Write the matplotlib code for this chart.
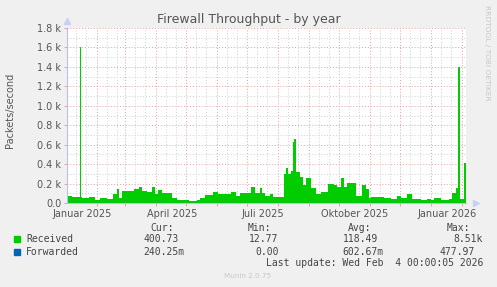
import datetime as dt
import matplotlib
matplotlib.use("Agg")
import matplotlib.pyplot as plt
import matplotlib.dates as mdates
from matplotlib.patches import Rectangle

# days since start of the graph (2 Jan 2025) and packets/second
start = dt.date(2025, 1, 2)
recv_days = [0, 5, 11, 13, 14, 15, 22, 28, 33, 40, 46, 50, 52, 55, 62, 67, 72, 75, 80,
             85, 88, 91, 95, 105, 110, 122, 130, 133, 138, 146, 151, 164, 169, 173, 184,
             188, 193, 195, 198, 203, 206, 215, 217, 219, 221, 224, 226, 227, 229, 233,
             236, 239, 244, 249, 254, 261, 267, 270, 274, 277, 280, 289, 295, 299, 302,
             304, 317, 324, 330, 334, 340, 345, 354, 360, 364, 367, 374, 382, 385, 389,
             391, 393, 397, 399]
recv_vals = [75, 65, 60, 1600, 60, 55, 65, 30, 50, 40, 95, 145, 50, 120, 125, 140, 165, 125, 115,
             160, 90, 130, 105, 50, 35, 25, 30, 50, 80, 115, 90, 115, 70, 100, 165,
             105, 150, 100, 75, 95, 65, 60, 300, 360, 300, 330, 630, 660, 320, 270,
             185, 260, 150, 90, 115, 195, 185, 165, 260, 165, 205, 70, 185, 145, 50,
             65, 55, 40, 70, 55, 90, 40, 30, 45, 35, 55, 30, 45, 100, 150,
             1400, 40, 410, 410]
fwd_days = [0, 100, 200, 300, 399]
fwd_vals = [0.6, 0.6, 0.6, 0.6, 0.6]

xlabels = ["Januar 2025", "April 2025", "Juli 2025", "Oktober 2025", "Januar 2026"]
xlabel_dates = [dt.date(2025, 1, 17), dt.date(2025, 4, 17), dt.date(2025, 7, 17),
                dt.date(2025, 10, 17), dt.date(2026, 1, 17)]
yticks = [0, 200, 400, 600, 800, 1000, 1200, 1400, 1600, 1800]
ylabels = ["0.0", "0.2 k", "0.4 k", "0.6 k", "0.8 k", "1.0 k", "1.2 k", "1.4 k", "1.6 k", "1.8 k"]

legend_names = ["Received", "Forwarded"]
legend_colors = ["#00CC00", "#0066B3"]
cur = ["400.73", "240.25m"]
mins = ["12.77", "0.00"]
avgs = ["118.49", "602.67m"]
maxs = ["8.51k", "477.97"]

W, H = 497, 287
fig = plt.figure(figsize=(W / 100, H / 100), dpi=100, facecolor="#F0F0F0")
ax = fig.add_axes([67 / W, (H - 203) / H, 399 / W, 175 / H], facecolor="white")

recv_x = [start + dt.timedelta(days=d) for d in recv_days]
fwd_x = [start + dt.timedelta(days=d) for d in fwd_days]
ax.fill_between(recv_x, recv_vals, step="post", color=legend_colors[0], lw=0, zorder=3)
ax.plot(fwd_x, fwd_vals, drawstyle="steps-post", color=legend_colors[1], lw=0.8, zorder=3)

x0 = start
x1 = start + dt.timedelta(days=399)
ax.set_xlim(x0, x1)
ax.set_ylim(0, 1800)

# grid
ax.xaxis.set_major_locator(mdates.MonthLocator())
ax.xaxis.set_minor_locator(mdates.DayLocator(bymonthday=[11, 21]))
ax.xaxis.set_major_formatter(plt.NullFormatter())
ax.set_yticks(yticks)
ax.set_yticklabels(ylabels)
ax.set_yticks(range(100, 1800, 200), minor=True)
ax.grid(which="major", color="#E8A0A0", ls=(0, (1, 2)), lw=0.7, zorder=1)
ax.grid(which="minor", color="#D0D0D0", ls=(0, (1, 2)), lw=0.7, zorder=1)
ax.tick_params(which="major", length=2, width=0.7, color="#E8A0A0", labelsize=7,
               labelcolor="#555555", pad=2)
ax.tick_params(which="minor", length=0)

for s in ["top", "right"]:
    ax.spines[s].set_visible(False)
for s in ["left", "bottom"]:
    ax.spines[s].set_color("#B8C0F0")
    ax.spines[s].set_linewidth(0.8)
    ax.spines[s].set_zorder(4)
ax.plot([0], [1.04], marker="^", ms=4, color="#C8D0F8", transform=ax.transAxes, clip_on=False)
ax.plot([1.025], [0], marker=">", ms=4, color="#C8D0F8", transform=ax.transAxes, clip_on=False)

for d, lab in zip(xlabel_dates, xlabels):
    ax.text(d, -0.035, lab, transform=ax.get_xaxis_transform(), ha="center", va="top",
            fontsize=7, color="#555555")

def px(x, y):
    return x / W, 1 - y / H

fig.text(*px(248.5, 19), "Firewall Throughput - by year", ha="center", va="center",
         fontsize=9, color="#555555")
fig.text(*px(10.5, 110), "Packets/second", rotation=90, ha="center", va="center",
         fontsize=7, color="#555555")
fig.text(*px(487, 53), "RRDTOOL / TOBI OETIKER", rotation=-90, ha="center", va="center",
         fontsize=5.4, color="#C8C8C8")

mono = dict(family="DejaVu Sans Mono", fontsize=7, color="#444444", va="center")
for x, t in zip([150, 248, 348, 447], ["Cur:", "Min:", "Avg:", "Max:"]):
    fig.text(*px(x, 228), t, **mono)
rows = [(239, [143, 249, 343, 453]), (252, [143, 255, 342, 440])]
for i, (y, xs) in enumerate(rows):
    fig.patches.append(Rectangle(px(14, y + 3), 6 / W, 6 / H, transform=fig.transFigure,
                                 color=legend_colors[i]))
    fig.text(*px(26, y), legend_names[i], **mono)
    for x, t in zip(xs, [cur[i], mins[i], avgs[i], maxs[i]]):
        fig.text(*px(x, y), t, **mono)
fig.text(*px(483, 263), "Last update: Wed Feb  4 00:00:05 2026", ha="right",
         **{k: v for k, v in mono.items()})
fig.text(*px(248, 276), "Munin 2.0.75", ha="center", va="center", fontsize=5.2, color="#C8C8C8")

fig.savefig("out.png", dpi=100, facecolor=fig.get_facecolor())
